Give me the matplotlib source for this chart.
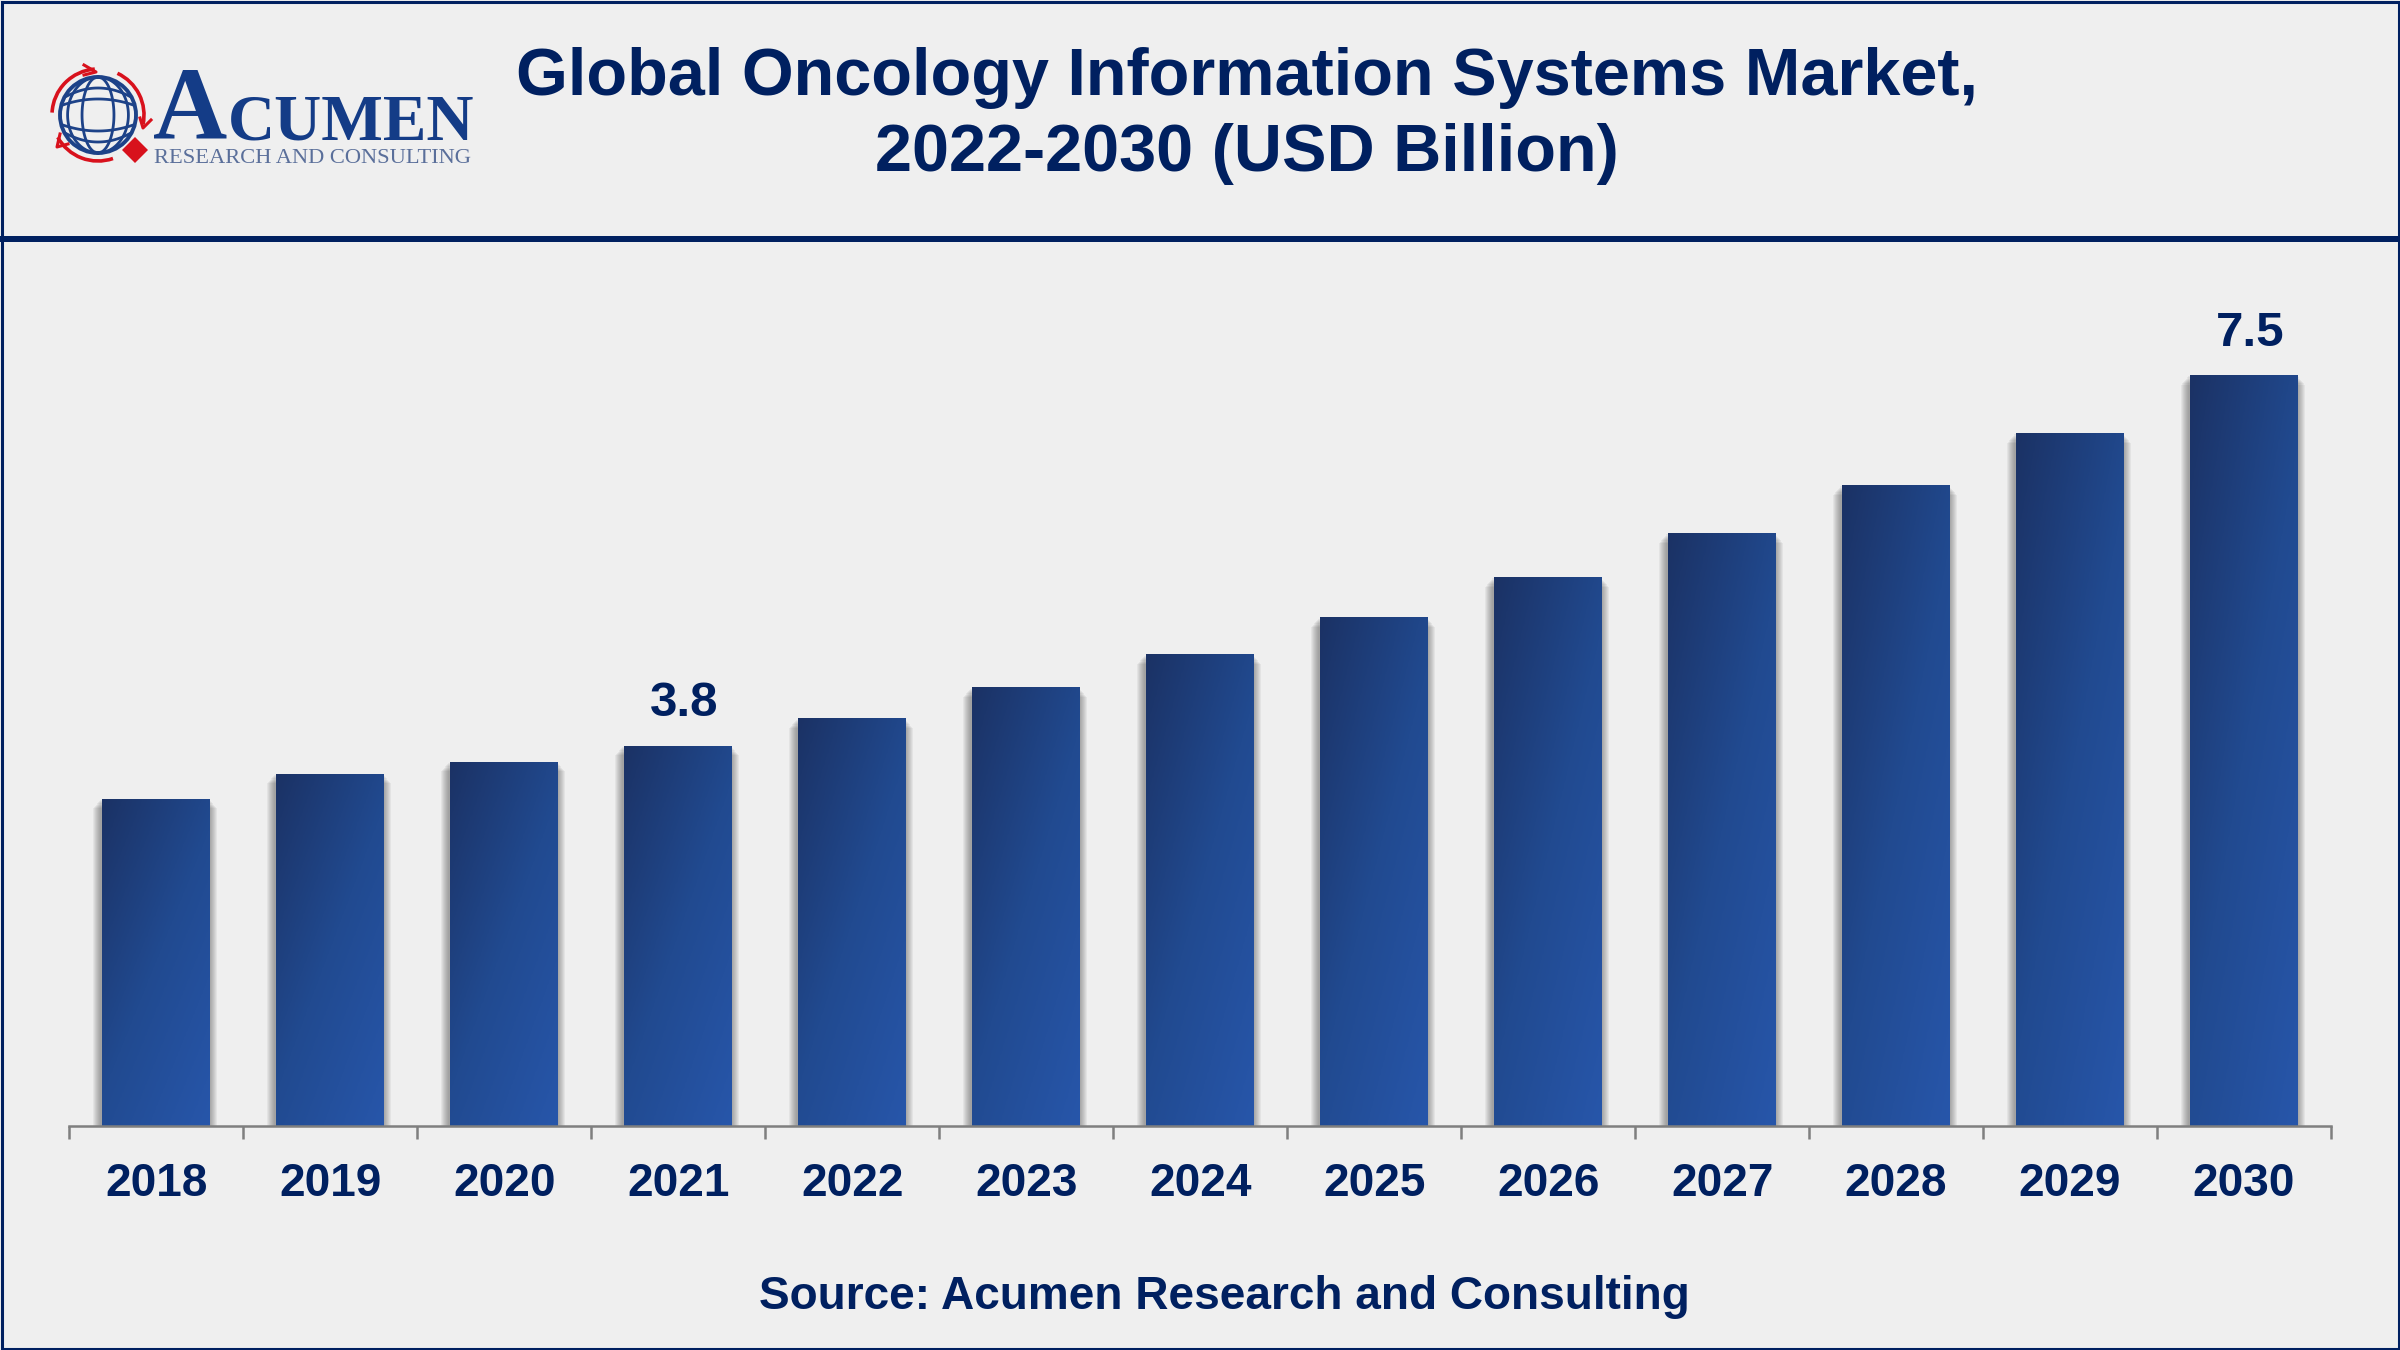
import numpy as np
import matplotlib
matplotlib.use("Agg")
import matplotlib.pyplot as plt
from matplotlib.colors import LinearSegmentedColormap
from matplotlib.patches import Arc, Circle, Polygon, Rectangle

plt.rcParams['font.family'] = ['Liberation Sans', 'DejaVu Sans']

years = ["2018", "2019", "2020", "2021", "2022", "2023", "2024",
         "2025", "2026", "2027", "2028", "2029", "2030"]
values = [3.27, 3.52, 3.64, 3.8, 4.07, 4.38, 4.71, 5.08, 5.48, 5.92, 6.40, 6.92, 7.5]
labelled_years = ["2021", "2030"]

title_text = "Global Oncology Information Systems Market,\n2022-2030 (USD Billion)"
source_text = "Source: Acumen Research and Consulting"

navy = "#002060"
bg = "#efefef"
W, H = 2400, 1350

fig = plt.figure(figsize=(24, 13.5), dpi=100, facecolor=bg)

# plot area, pixel positions measured on the reference
left, right, top, bottom = 69.3, 2331, 240, 1126
ax = fig.add_axes([left / W, 1 - bottom / H, (right - left) / W, (bottom - top) / H])
ax.set_facecolor("none")

x = np.arange(len(years))
bar_w = 0.62
vals = np.array(values)

# soft shadow, stacked wider bars that start a bit below the bar top
for ext in range(1, 9):
    ax.bar(x - 0.008, vals - ext * 0.012, width=bar_w + 2 * ext / 174, color="#404040",
           alpha=0.065, zorder=1)

bars = ax.bar(x, values, width=bar_w, color="#214a92", zorder=2)

# each bar gets its own diagonal gradient, dark top left to light bottom right
u, v = np.meshgrid(np.linspace(0, 1, 80), np.linspace(0, 1, 80))
grad = (u * 0.45 + v * 0.55)
cmap = LinearSegmentedColormap.from_list("bar", ["#1b3265", "#214a90", "#2756aa"])
for b in bars:
    im = ax.imshow(grad, cmap=cmap, vmin=0, vmax=1, aspect="auto", zorder=3, origin="upper",
                   extent=(b.get_x(), b.get_x() + b.get_width(), 0, b.get_height()))
    im.set_clip_path(b)

ax.set_xlim(-0.5, len(years) - 0.5)
ax.set_ylim(0, (bottom - top) / 100.13)

for sp in ["top", "left", "right"]:
    ax.spines[sp].set_visible(False)
ax.spines["bottom"].set_color("#7f7f7f")
ax.spines["bottom"].set_linewidth(1.8)
ax.spines["bottom"].set_zorder(4)
ax.set_yticks([])
ax.set_xticks(np.arange(len(years) + 1) - 0.5, labels=[""] * (len(years) + 1))
ax.set_xticks(x, labels=years, minor=True)
ax.tick_params(axis="x", which="major", length=9.5, width=1.8, color="#7f7f7f")
ax.tick_params(axis="x", which="minor", length=0, pad=26, labelsize=33, labelcolor=navy)
for t in ax.get_xticklabels(minor=True):
    t.set_fontweight("bold")

for i, yr in enumerate(years):
    if yr in labelled_years:
        ax.annotate(f"{values[i]:.1f}", (x[i], values[i]), xytext=(4.6, 21),
                    textcoords="offset points", ha="center", va="baseline",
                    fontsize=35.5, fontweight="bold", color=navy)

# overlay in pixel coords for header, frame and logo
ov = fig.add_axes([0, 0, 1, 1], zorder=5)
ov.set_xlim(0, W)
ov.set_ylim(H, 0)
ov.axis("off")
ov.patch.set_alpha(0)

ov.add_patch(Rectangle((1.5, 1.5), W - 3, H - 3, fill=False, ec=navy, lw=2.2))
ov.add_patch(Rectangle((0, 236), W, 6, fc=navy, ec="none"))

ov.text(1247, 116, title_text, ha="center", va="center", fontsize=48, fontweight="bold",
        color=navy, linespacing=1.29)
ov.text(1224, 1297, source_text, ha="center", va="center", fontsize=33.1, fontweight="bold",
        color=navy)

# logo
blue = "#1d4288"
red = "#d8111c"
cx, cy, r = 98, 115, 38
globe = Circle((cx, cy), r, fill=False, ec=blue, lw=2.8)
ov.add_patch(globe)
clip = Circle((cx, cy), r, transform=ov.transData)
yy = np.linspace(-r, r, 60)
for a in (0.42, 0.8):
    for s in (-1, 1):
        ov.plot(cx + s * a * np.sqrt(r ** 2 - yy ** 2), cy + yy, color=blue, lw=2)
xx = np.linspace(-r, r, 60)
for h, b in ((16, 7), (27, 12)):
    for s in (-1, 1):
        ln, = ov.plot(cx + xx, cy + s * (h - b * (xx / r) ** 2), color=blue, lw=2)
        ln.set_clip_path(clip)
for a1, a2 in [(183, 266), (-65, 12), (71, 151)]:
    ov.add_patch(Arc((cx, cy), 92, 92, theta1=a1, theta2=a2, ec=red, lw=2.6))
# arrow heads on the red ring
for head in ([(84, 65), (96, 72), (84, 75)], [(151, 120), (143, 128), (140, 118)], [(60, 134), (57, 147), (68, 144)]):
    ov.plot(*zip(*head), color=red, lw=2.2)
ov.add_patch(Polygon([(135, 137), (148, 150), (135, 163), (122, 150)], fc=red, ec="none"))

logo_font = ['Liberation Serif', 'DejaVu Serif']
ov.text(153, 139, "A", family=logo_font, fontweight="bold", fontsize=74, color="#143c87",
        ha="left", va="baseline")
ov.text(228, 139, "CUMEN", family=logo_font, fontweight="bold", fontsize=47, color="#143c87",
        ha="left", va="baseline")
ov.text(154, 163, "RESEARCH AND CONSULTING", family=logo_font, fontsize=16.2, color="#5a6f9a",
        ha="left", va="baseline")

fig.savefig("out.png", dpi=100, facecolor=bg)
